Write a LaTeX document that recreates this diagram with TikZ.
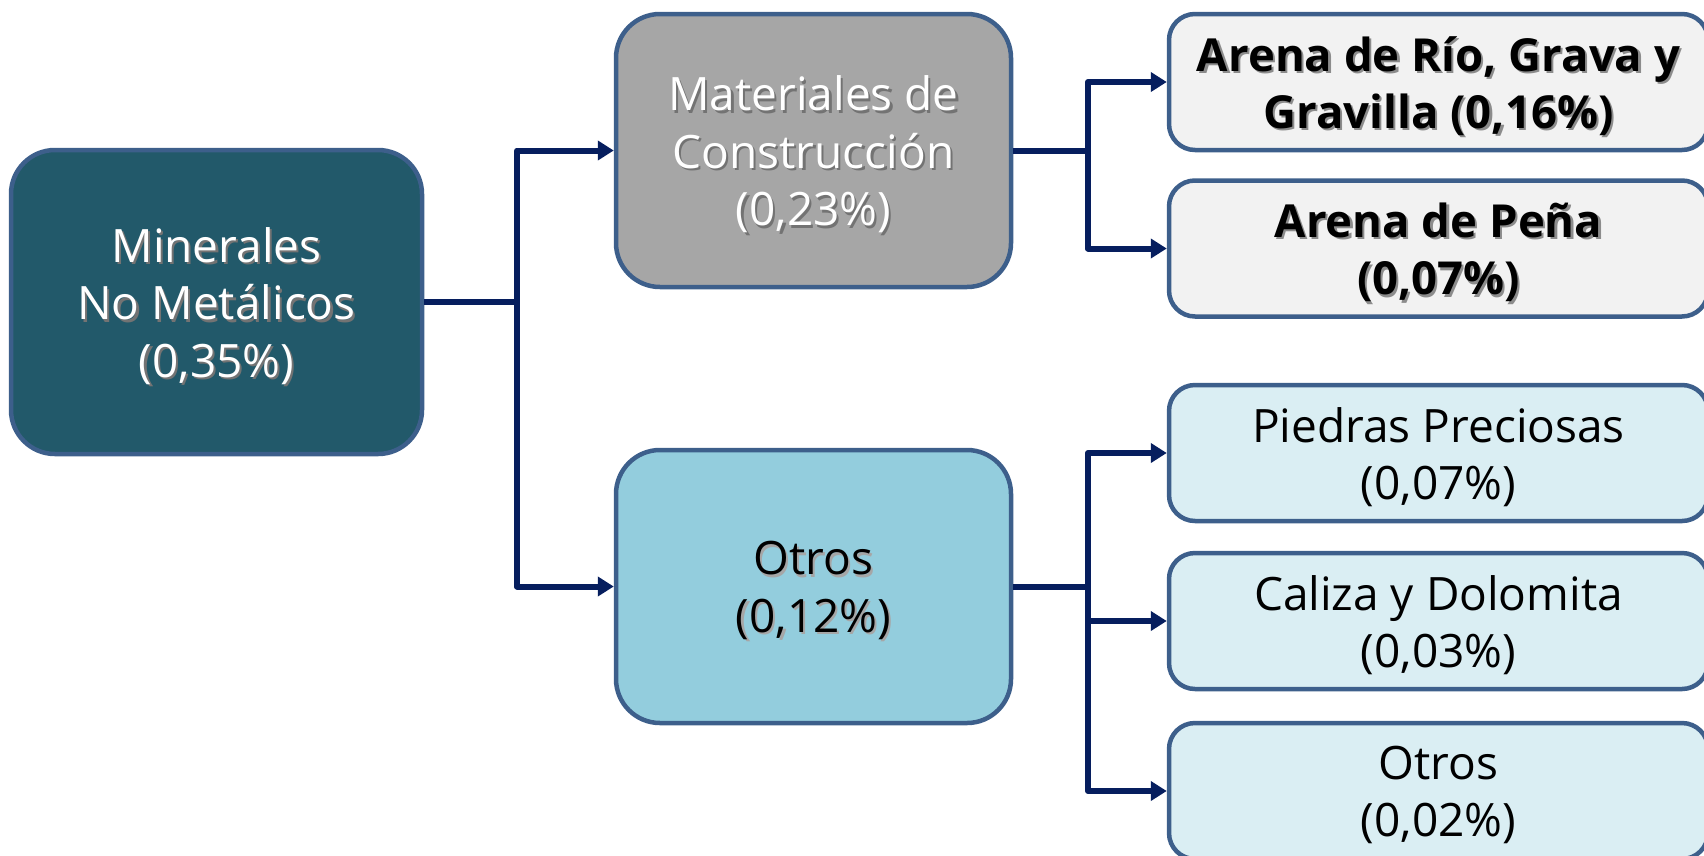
\documentclass[tikz,border=0pt]{standalone}
\usepackage{fontspec}
\setmainfont{Open Sans}
\usetikzlibrary{arrows.meta}
\definecolor{rootfill}{HTML}{22596A}
\definecolor{bordercol}{HTML}{3D5F8B}
\definecolor{matfill}{HTML}{A6A6A6}
\definecolor{otrosfill}{HTML}{93CDDD}
\definecolor{grayfill}{HTML}{F2F2F2}
\definecolor{bluefill}{HTML}{DAEEF3}
\definecolor{conncol}{HTML}{061E5E}
% line lowered without changing its box
\newcommand\dn[1]{\raisebox{-4pt}[\height][\depth]{#1}}
% line with a soft drop shadow
\newcommand\shd[2][black!55]{\dn{\leavevmode\rlap{\raisebox{-2.2pt}[0pt][0pt]{\hspace{2.2pt}\textcolor{#1}{#2}}}#2}}
\tikzset{
  box/.style={draw=bordercol, line width=4.5pt, inner sep=0pt, align=center,
    font=\fontsize{46}{57.5}\selectfont},
  bigbox/.style={box, minimum width=395pt, minimum height=273pt, rounded corners=44pt},
  rootbox/.style={box, fill=rootfill, text=white, minimum width=411pt, minimum height=304pt, rounded corners=44pt},
  leafbox/.style={box, minimum width=539pt, minimum height=136pt, rounded corners=26pt},
  boldleaf/.style={leafbox, fill=grayfill, font=\fontsize{45.5}{57.5}\selectfont\bfseries},
  conn/.style={draw=conncol, line width=6pt, line join=round},
  arr/.style={conn, -{Triangle[length=16pt,width=19pt]}}
}
\begin{document}
\begin{tikzpicture}[x=1pt,y=-1pt]
\useasboundingbox (0,0) rectangle (1704,855);
\node[rootbox] (root) at (216.5,302) {\shd{Minerales}\\\shd{No Metálicos}\\\shd{(0,35\%)}};
\node[bigbox, fill=matfill, text=white] (mat) at (813.5,150.5) {\shd{Materiales de}\\\shd{Construcción}\\\shd{(0,23\%)}};
\node[bigbox, fill=otrosfill, text=black] (otr) at (813.5,586.5) {\shd[black!35]{Otros}\\\shd[black!35]{(0,12\%)}};
\node[boldleaf] (r1) at (1438.5,82) {\shd[black!45]{Arena de Río, Grava y}\\\shd[black!45]{Gravilla (0,16\%)}};
\node[boldleaf] (r2) at (1438.5,248.5) {\shd[black!45]{Arena de Peña}\\\shd[black!45]{(0,07\%)}};
\node[leafbox, fill=bluefill] (r3) at (1438.5,453) {\dn{Piedras Preciosas}\\\dn{(0,07\%)}};
\node[leafbox, fill=bluefill] (r4) at (1438.5,621) {\dn{Caliza y Dolomita}\\\dn{(0,03\%)}};
\node[leafbox, fill=bluefill] (r5) at (1438.5,791) {\dn{Otros}\\\dn{(0,02\%)}};
\coordinate (j1) at (517,0);
\coordinate (j2) at (1088,0);
\draw[conn] (root.east) -- (j1 |- root.east);
\draw[arr] (j1 |- root.east) |- (mat.west);
\draw[arr] (j1 |- root.east) |- (otr.west);
\draw[conn] (mat.east) -- (j2 |- mat.east);
\draw[arr] (j2 |- mat.east) |- (r1.west);
\draw[arr] (j2 |- mat.east) |- (r2.west);
\draw[conn] (otr.east) -- (j2 |- otr.east);
\draw[arr] (j2 |- otr.east) |- (r3.west);
\draw[arr] (j2 |- otr.east) |- (r4.west);
\draw[arr] (j2 |- otr.east) |- (r5.west);
\end{tikzpicture}
\end{document}
